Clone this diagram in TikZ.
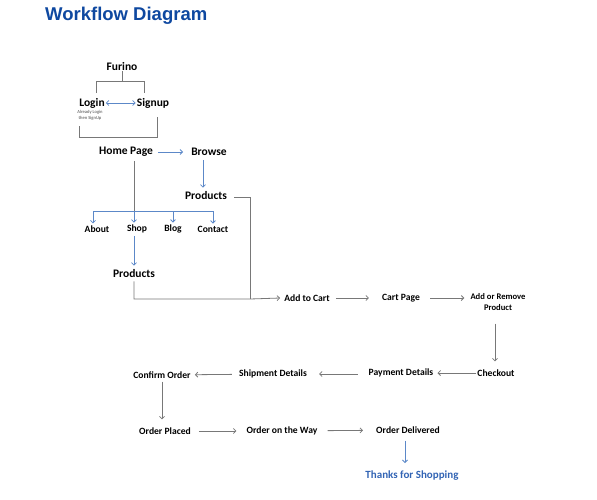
\documentclass[tikz,border=0pt]{standalone}
\usepackage{fontspec}
\setmainfont{Carlito}
\newfontfamily\titlefont{Liberation Sans}
\usetikzlibrary{arrows.meta}
\definecolor{titleblue}{RGB}{14,72,160}
\definecolor{linkblue}{RGB}{92,136,200}
\definecolor{thanksblue}{RGB}{50,100,180}
\definecolor{flowgray}{RGB}{120,120,120}
\tikzset{>={Straight Barb[length=2.5pt,width=5pt]},
  big/.style={font=\bfseries\fontsize{11.5}{12}\selectfont, inner sep=0pt},
  mid/.style={font=\bfseries\fontsize{9.6}{11}\selectfont, inner sep=0pt},
  small/.style={font=\bfseries\fontsize{8.6}{10.5}\selectfont, inner sep=0pt, align=center},
  grayline/.style={draw=flowgray, line width=0.8pt},
  blueline/.style={draw=linkblue, line width=0.8pt}}

\begin{document}
\begin{tikzpicture}[x=1pt, y=-1pt]
\useasboundingbox (0,0) rectangle (597,499);
\node[anchor=west, font=\titlefont\bfseries\fontsize{18.5}{20}\selectfont, text=titleblue, inner sep=0pt] (title) at (45,16) {Workflow Diagram};

% login part
\node[big] (furino) at (122,67) {Furino};
\node[big] (login) at (92,103) {Login};
\node[big] (signup) at (153,103) {Signup};
\node[font=\fontsize{4.6}{5.6}\selectfont, align=center, inner sep=0pt, text=black!70] (note) at (90,115) {Already Login\\then SignUp};
\node[big] (home) at (126,152) {Home Page};
\node[big] (browse) at (209,152) {Browse};
\node[big] (prodA) at (206,196) {Products};

% menu
\node[mid] (about) at (97,229) {About};
\node[mid] (shop) at (137,229) {Shop};
\node[mid] (blog) at (173,229) {Blog};
\node[mid] (contact) at (213,229) {Contact};
\node[big] (prodB) at (134,274) {Products};

% cart and order
\node[mid] (addcart) at (307,298) {Add to Cart};
\node[mid] (cartpage) at (401,298) {Cart Page};
\node[small] (addremove) at (498,302) {Add or Remove\\Product};
\node[mid] (checkout) at (496,373) {Checkout};
\node[mid] (payment) at (401,373) {Payment Details};
\node[mid] (shipment) at (273,374) {Shipment Details};
\node[mid] (confirm) at (162,375) {Confirm Order};
\node[mid] (placed) at (165,431) {Order Placed};
\node[mid] (way) at (282,431) {Order on the Way};
\node[mid] (delivered) at (408,430) {Order Delivered};
\node[font=\bfseries\fontsize{11}{12}\selectfont, text=thanksblue, inner sep=0pt] (thanks) at (412,476) {Thanks for Shopping};

\coordinate (topL) at (96,81);
\coordinate (topR) at (144,81);
\coordinate (lowL) at (79,126);
\coordinate (lowR) at (157,117);
\coordinate (cornerA) at (250,197);
\coordinate (cornerB) at (250,299);
\coordinate (branch) at (134,211);

\draw[grayline] (furino.south) -- (furino.south |- topL);
\draw[grayline] ([yshift=5]login.north -| topL) |- (topR) -- ([yshift=5]signup.north -| topR);
\draw[blueline, <->, shorten <=1pt, shorten >=1pt] (login) -- (signup);
\draw[grayline] (lowL) |- (157,137) -- (lowR);

\draw[blueline, ->, shorten <=5pt, shorten >=8pt] (home) -- (browse);
\draw[blueline, ->, shorten <=4pt, shorten >=4pt] ([xshift=-6]browse.south) -- ([xshift=-3]prodA.north);
\draw[grayline] (prodA) ++(28,1) -- (cornerA) -- (cornerB);
\draw[grayline] ([xshift=8, yshift=-4]home.south) -- (branch);
\draw[blueline] (branch) -| ([xshift=-4]about.north |- branch);
\draw[blueline] (branch) -| (contact.north |- branch);
\foreach \t/\dx in {about/-4, shop/-3, blog/0, contact/0}
  \draw[blueline, ->] ([xshift=\dx]\t.north |- branch) -- ([xshift=\dx, yshift=2]\t.north);
\draw[blueline, ->, shorten <=3pt, shorten >=4pt] ([xshift=-3]shop.south) -- (prodB.north);
\draw[grayline, ->] ([yshift=-3]prodB.south) |- (cornerB) -- ([xshift=-4]addcart.west);

\draw[grayline, ->, shorten <=6pt, shorten >=13pt] (addcart) -- (cartpage);
\draw[grayline, ->, shorten <=10pt, shorten >=6pt] (cartpage) -- (cartpage -| addremove.west);
\draw[grayline, ->, shorten <=13pt, shorten >=8pt] ([xshift=-3]addremove.south) -- ([xshift=-1]checkout.north);
\draw[grayline, ->, shorten <=1pt, shorten >=4pt] (checkout) -- (payment);
\draw[grayline, ->, shorten <=11pt, shorten >=12pt] ([yshift=-1]payment.west) -- (shipment.east);
\draw[grayline, ->, shorten <=7pt, shorten >=4pt] (shipment) -- (confirm);
\draw[grayline, ->, shorten <=3pt, shorten >=8pt] (confirm) -- (confirm |- placed.north);
\draw[grayline, ->, shorten <=8pt, shorten >=10pt] (placed) -- (way);
\draw[grayline, ->, shorten <=10pt, shorten >=13pt] (way) -- (delivered);
\draw[blueline, ->, shorten <=7pt, shorten >=8pt] ([xshift=-3]delivered.south) -- ([xshift=-7]thanks.north);
\end{tikzpicture}
\end{document}
